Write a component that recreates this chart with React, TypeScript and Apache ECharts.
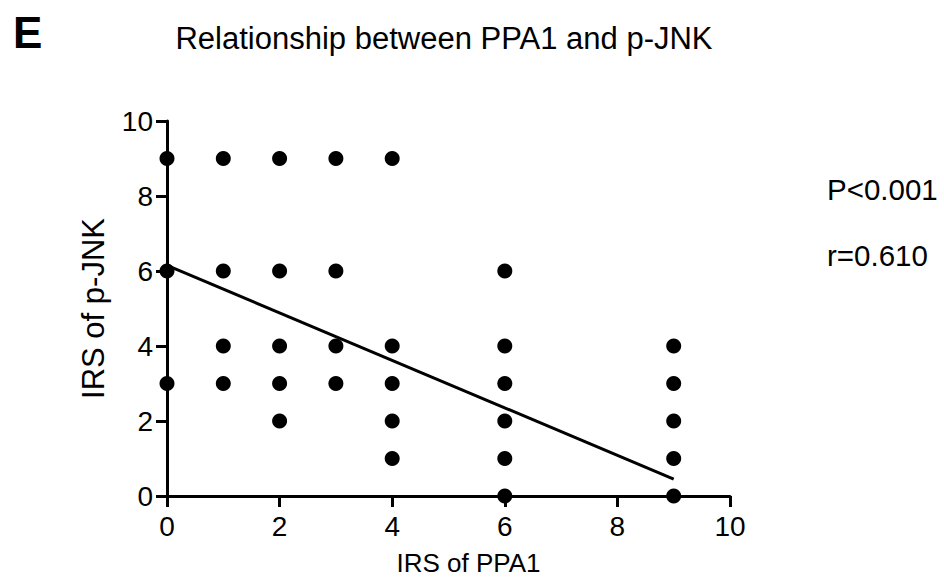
import React, { useEffect, useRef } from "react";
import * as echarts from "echarts";

const panelLabel = "E";
const chartTitle = "Relationship between PPA1 and p-JNK";
const xAxisName = "IRS of PPA1";
const yAxisName = "IRS of p-JNK";
const statP = "P<0.001";
const statR = "r=0.610";

// scatter points: [IRS of PPA1, IRS of p-JNK]
const xValues = [0, 0, 0, 1, 1, 1, 1, 2, 2, 2, 2, 2, 3, 3, 3, 3, 4, 4, 4, 4, 4, 6, 6, 6, 6, 6, 6, 9, 9, 9, 9, 9];
const yValues = [9, 6, 3, 9, 6, 4, 3, 9, 6, 4, 3, 2, 9, 6, 4, 3, 9, 4, 3, 2, 1, 6, 4, 3, 2, 1, 0, 4, 3, 2, 1, 0];

// regression line endpoints
const fitX = [0, 9];
const fitY = [6.15, 0.45];

const FONT = "'Liberation Sans', Arial, Helvetica, sans-serif";

export default function App() {
  const ref = useRef<HTMLDivElement>(null);
  useEffect(() => {
    if (!ref.current) return;
    const chart = echarts.init(ref.current, null, { renderer: "svg" });
    const points = xValues.map((x, i) => [x, yValues[i]]);
    const fit = fitX.map((x, i) => [x, fitY[i]]);
    chart.setOption({
      animation: false,
      backgroundColor: "#ffffff",
      textStyle: { fontFamily: FONT, color: "#000" },
      grid: { left: 167, right: 214, top: 121, bottom: 86, containLabel: false },
      xAxis: {
        type: "value",
        min: 0,
        max: 10,
        interval: 2,
        name: xAxisName,
        nameLocation: "middle",
        nameGap: 54,
        nameTextStyle: { fontSize: 26, color: "#000", fontFamily: FONT, padding: [0, 0, 0, 40] },
        axisLine: { show: true, onZero: false, lineStyle: { color: "#000", width: 3 } },
        axisTick: { show: true, length: 11, lineStyle: { color: "#000", width: 3 } },
        axisLabel: { fontSize: 28, color: "#000", margin: 16, fontFamily: FONT },
        splitLine: { show: false },
      },
      yAxis: {
        type: "value",
        min: 0,
        max: 10,
        interval: 2,
        name: yAxisName,
        nameLocation: "middle",
        nameGap: 58,
        nameTextStyle: { fontSize: 31, color: "#000", fontFamily: FONT },
        axisLine: { show: true, onZero: false, lineStyle: { color: "#000", width: 3 } },
        axisTick: { show: true, length: 11, lineStyle: { color: "#000", width: 3 } },
        axisLabel: { fontSize: 28, color: "#000", margin: 14, fontFamily: FONT },
        splitLine: { show: false },
      },
      series: [
        {
          type: "line",
          data: fit,
          showSymbol: false,
          symbol: "none",
          lineStyle: { color: "#000", width: 3 },
          clip: false,
          z: 3,
        },
        {
          type: "scatter",
          data: points,
          symbol: "circle",
          symbolSize: 15,
          itemStyle: { color: "#000", opacity: 1 },
          clip: false,
          z: 4,
        },
      ],
      graphic: [
        {
          type: "text",
          left: 13,
          top: 10,
          style: { text: panelLabel, font: `bold 44px ${FONT}`, fill: "#000" },
        },
        {
          type: "text",
          x: 444,
          y: 23,
          style: { text: chartTitle, font: `31px ${FONT}`, fill: "#000", textAlign: "center", textVerticalAlign: "top" },
        },
        {
          type: "text",
          x: 827,
          y: 189,
          style: { text: statP, font: `29.5px ${FONT}`, fill: "#000", textAlign: "left", textVerticalAlign: "middle" },
        },
        {
          type: "text",
          x: 827,
          y: 255,
          style: { text: statR, font: `29.5px ${FONT}`, fill: "#000", textAlign: "left", textVerticalAlign: "middle" },
        },
      ],
    });
    return () => chart.dispose();
  }, []);
  return (
    <div
      ref={ref}
      style={{ position: "fixed", left: 0, top: 0, width: 944, height: 582, background: "#fff" }}
    />
  );
}
